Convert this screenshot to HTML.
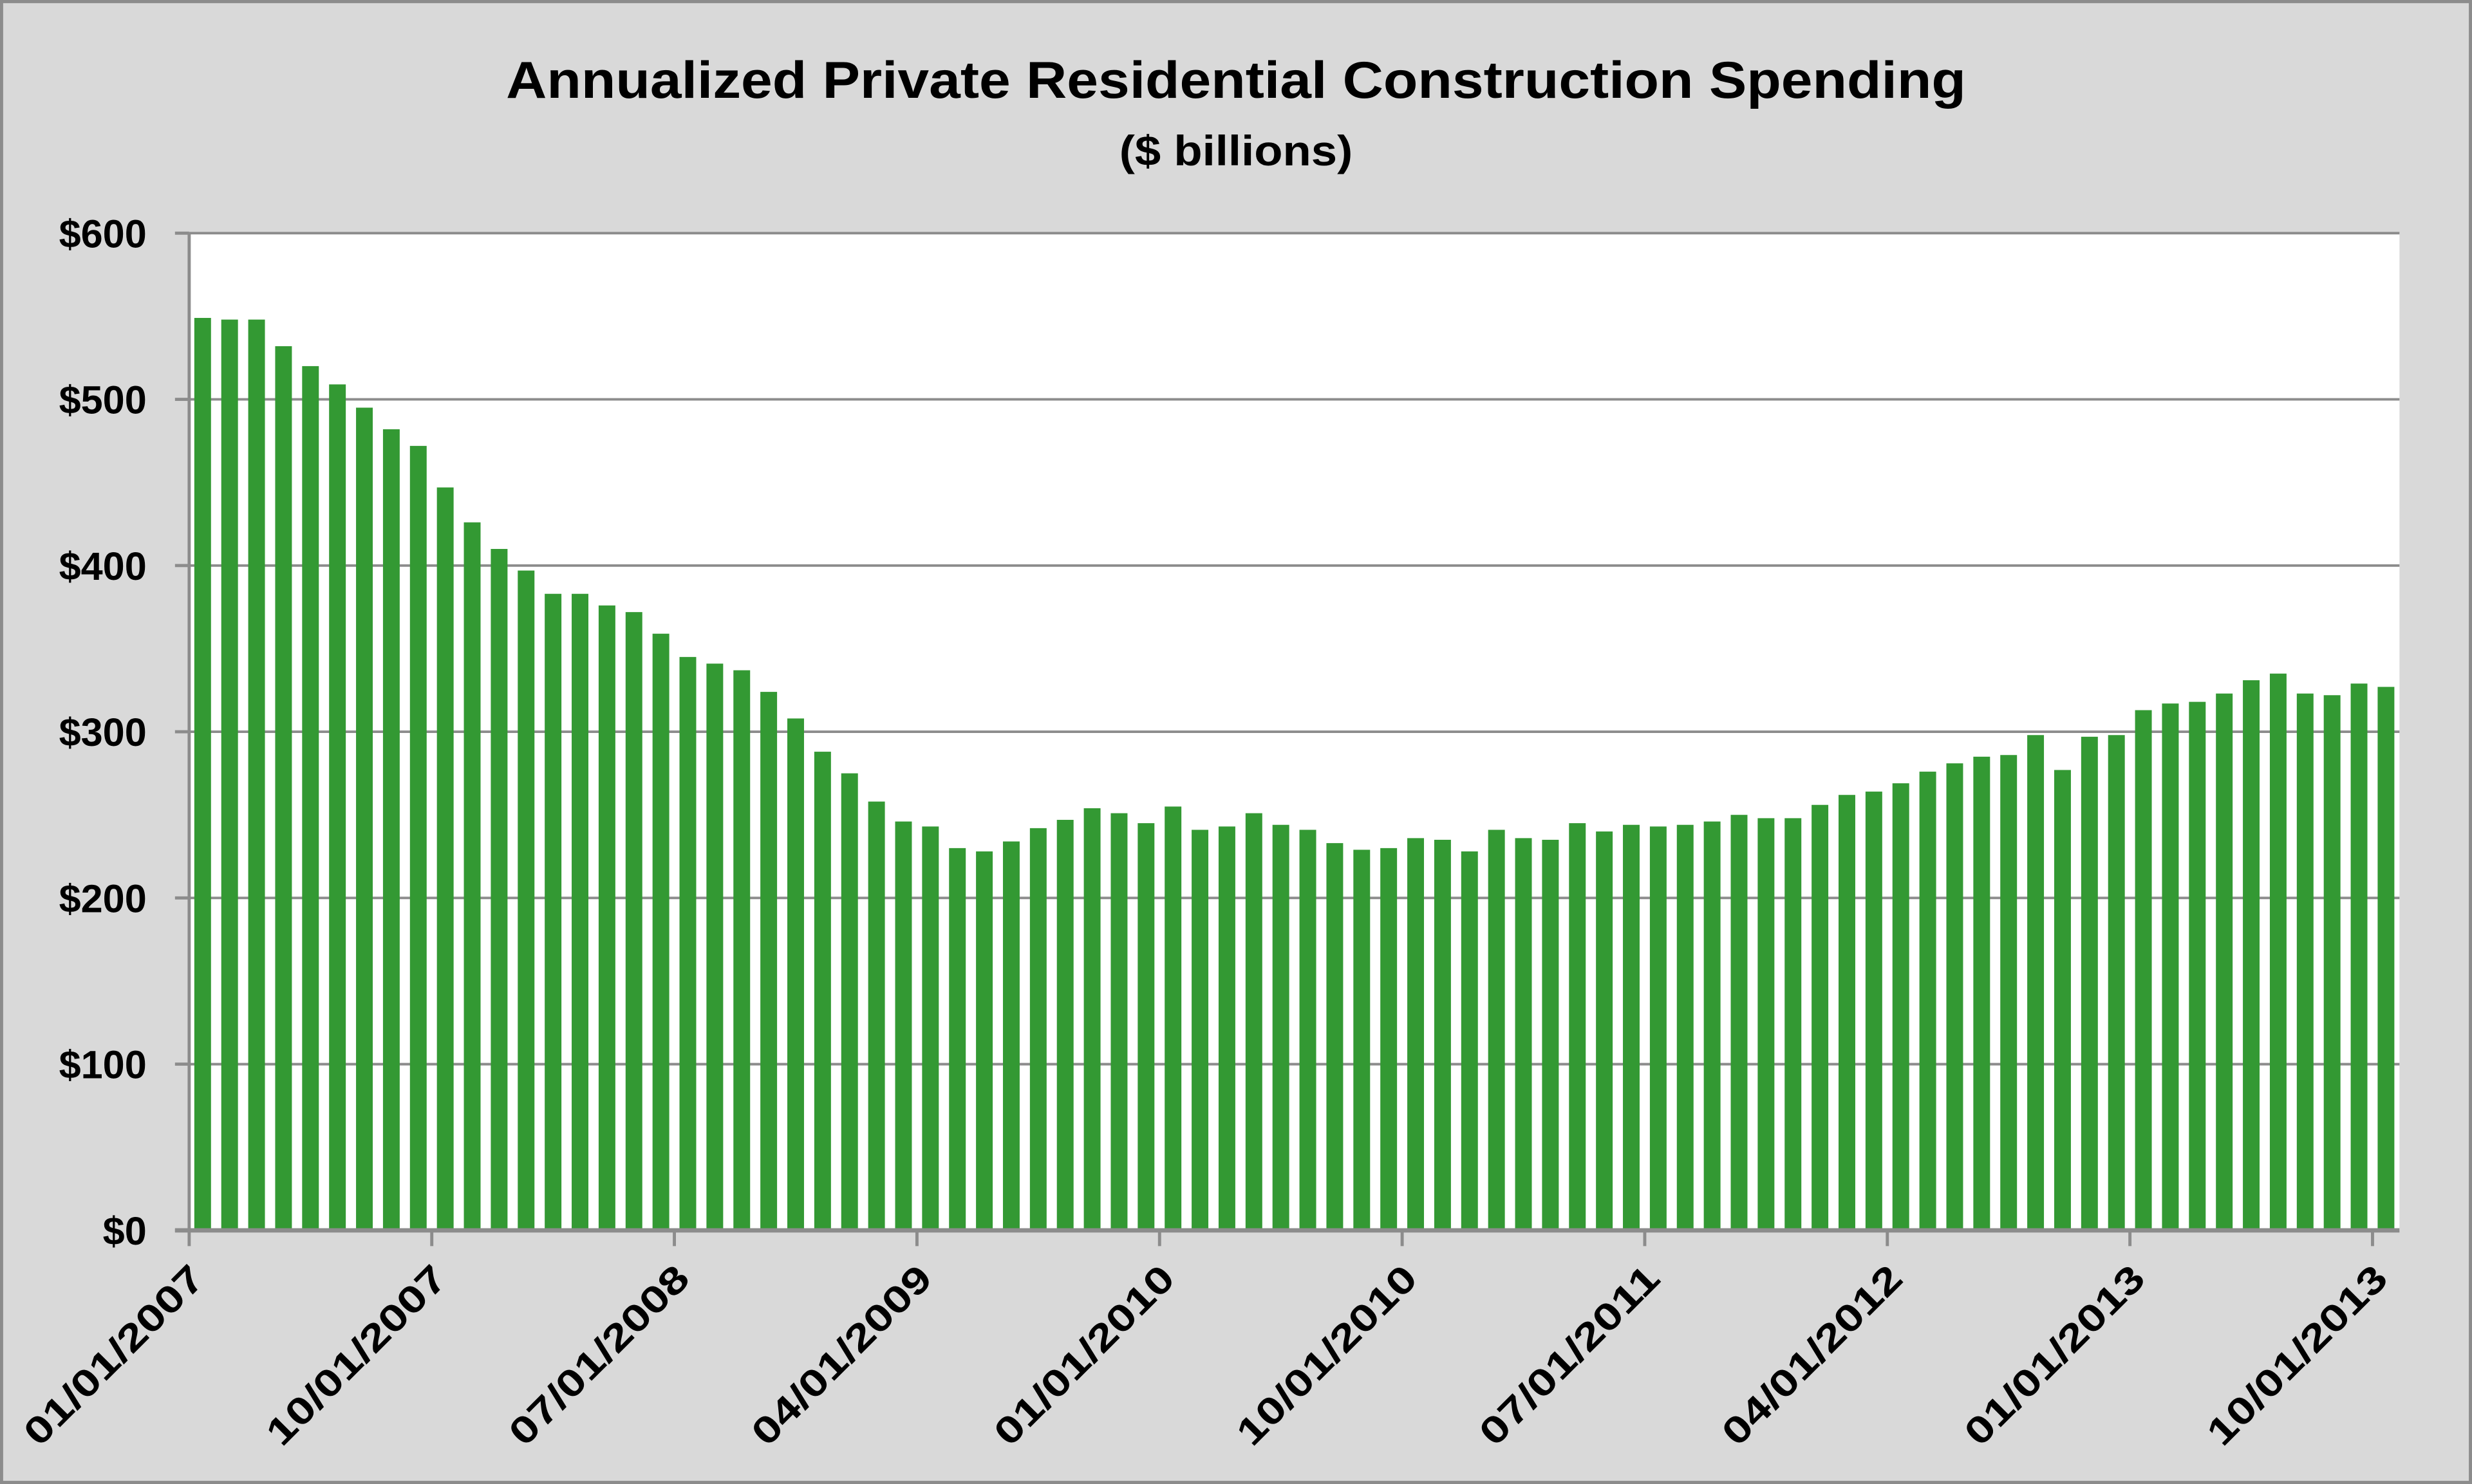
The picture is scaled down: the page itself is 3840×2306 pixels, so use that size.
<!DOCTYPE html>
<html><head><meta charset="utf-8"><style>
html,body{margin:0;padding:0;background:#d9d9d9;}
svg{display:block;font-family:"Liberation Sans",sans-serif;font-weight:bold;}
</style></head><body>
<svg id="chart" width="3840" height="2306" viewBox="0 0 1568 942" preserveAspectRatio="none" xmlns="http://www.w3.org/2000/svg">
<rect x="1" y="1" width="1566" height="940" fill="#d9d9d9" stroke="#8c8c8c" stroke-width="2"/>
<text x="784" y="62" text-anchor="middle" font-size="33" textLength="926" lengthAdjust="spacingAndGlyphs">Annualized Private Residential Construction Spending</text>
<text x="784" y="105" text-anchor="middle" font-size="27" textLength="148" lengthAdjust="spacingAndGlyphs">($ billions)</text>
<rect x="120" y="148" width="1402" height="633" fill="#ffffff"/>
<g id="grid"></g><g id="bars"></g><g id="axes"></g>
</svg>
<script>
const values = [549,548,548,532,520,509,495,482,472,447,426,410,397,383,383,376,372,359,345,341,337,324,308,288,275,258,246,243,230,228,234,242,247,254,251,245,255,241,243,251,244,241,233,229,230,236,235,228,241,236,235,245,240,244,243,244,246,250,248,248,256,262,264,269,276,281,285,286,298,277,297,298,313,317,318,323,331,335,323,322,329,327];
const yTicks = [0,100,200,300,400,500,600];
const yTickLabels = ["$0","$100","$200","$300","$400","$500","$600"];
const xLabelIdx = [0,9,18,27,36,45,54,63,72,81];
const xLabels = ["01/01/2007","10/01/2007","07/01/2008","04/01/2009","01/01/2010","10/01/2010","07/01/2011","04/01/2012","01/01/2013","10/01/2013"];

const NS="http://www.w3.org/2000/svg";
const L=120,R=1522,T=148,B=781,yMax=600;
const slot=(R-L)/values.length;
const y=v=>B-(v/yMax)*(B-T);
const x=i=>L+i*slot;
function mk(tag,attrs,parent){const e=document.createElementNS(NS,tag);for(const k in attrs)e.setAttribute(k,attrs[k]);parent.appendChild(e);return e;}
const grid=document.getElementById('grid'),bars=document.getElementById('bars'),axes=document.getElementById('axes');
yTicks.forEach((t,i)=>{
  if(t>0){const g=mk('line',{x1:L,x2:R,y1:y(t),y2:y(t),stroke:'#8c8c8c','stroke-width':1.6},grid);
  
  }
  const tk=mk('line',{x1:L-9,x2:L,y1:y(t),y2:y(t),stroke:'#8c8c8c','stroke-width':2},axes);
  
  
  const lb=mk('text',{x:93,y:y(t)+9,'text-anchor':'end','font-size':25},axes);
  lb.textContent=yTickLabels[i];
  
  
});
const bw=slot*0.62;
values.forEach((v,i)=>{
  const r=mk('rect',{x:x(i)+(slot-bw)/2,y:y(v),width:bw,height:B-y(v),fill:'#339933'},bars);
  
  
});
const ya=mk('line',{x1:L,x2:L,y1:T,y2:B+1,stroke:'#8c8c8c','stroke-width':2},axes);


const xa=mk('line',{x1:L-9,x2:R,y1:B,y2:B,stroke:'#8c8c8c','stroke-width':2.8},axes);


xLabelIdx.forEach((idx,j)=>{
  const px=x(idx);
  const tk=mk('line',{x1:px,x2:px,y1:B,y2:B+10,stroke:'#8c8c8c','stroke-width':2},axes);
  
  
  const lb=mk('text',{x:px+11,y:B+32,'text-anchor':'end','font-size':24,transform:`rotate(-45 ${px+11} ${B+32})`,textLength:150,lengthAdjust:'spacingAndGlyphs'},axes);
  lb.textContent=xLabels[j];
  
  
});
</script>
</body></html>
